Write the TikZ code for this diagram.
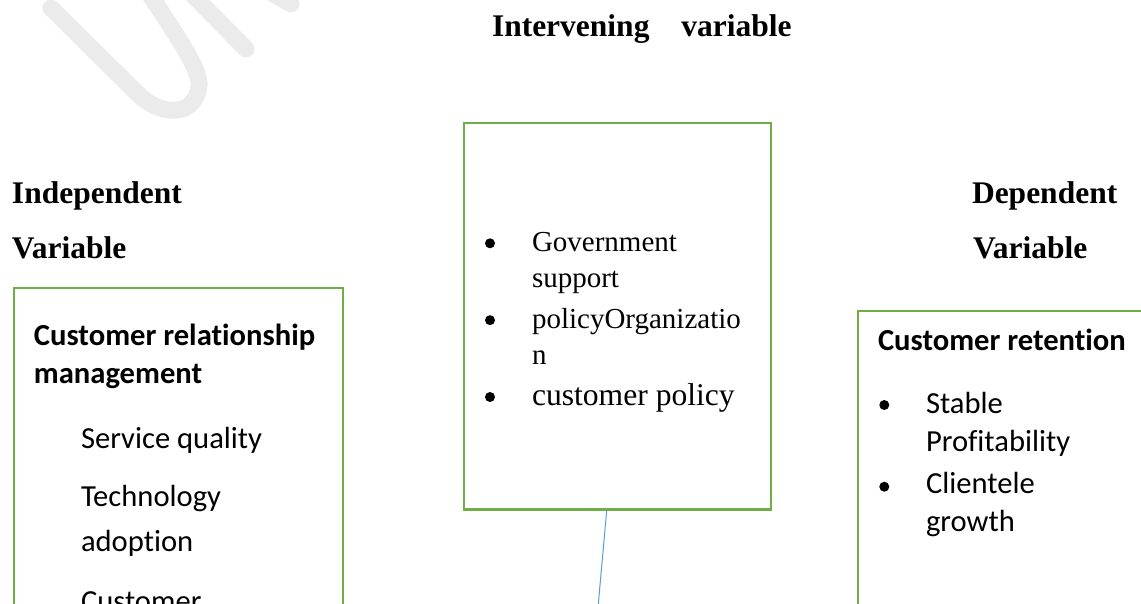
\documentclass[tikz,border=0pt]{standalone}
\usepackage{fontspec}
\setmainfont{Liberation Serif}
\newfontfamily\carl[Ligatures=NoCommon]{Carlito}
\definecolor{boxgreen}{HTML}{70AD47}
\definecolor{lineblue}{HTML}{5B9BD5}
\definecolor{wmgray}{HTML}{EBEBEB}
\begin{document}
\begin{tikzpicture}[x=1pt,y=-1pt,
  txt/.style={anchor=base west,inner sep=0pt,outer sep=0pt},
  headbold/.style={txt,font=\fontsize{31.5}{36}\selectfont\bfseries},
  serifsmall/.style={txt,font=\fontsize{29}{34}\selectfont},
  serifbig/.style={txt,font=\fontsize{31.6}{36}\selectfont},
  sansbold/.style={txt,font=\carl\fontsize{30.6}{36}\selectfont\bfseries},
  sansreg/.style={txt,font=\carl\fontsize{30.6}{36}\selectfont},
  greenbox/.style={draw=boxgreen,line width=2.2pt,anchor=north west,inner sep=0pt},
  bul/.style={circle,fill=black,inner sep=0pt,minimum size=10pt},
  watermark/.style={draw=wmgray,line width=17pt,line cap=round,line join=round},
  connector/.style={draw=lineblue,line width=1pt}]
\useasboundingbox (0,0) rectangle (1141,603);
\clip (0,0) rectangle (1141,603);
% watermark strokes
\path[watermark] (51,8) -- (138,94) .. controls (160,116) and (195,118) .. (199,86) .. controls (201,72) and (180,40) .. (150,-5);
\path[watermark] (246,49) -- (190,-8);
\path[watermark] (291,4) -- (270,-8);
% title and headings
\node[headbold] (title) at (492,36) {Intervening\hspace*{32pt}variable};
\node[headbold] (indep) at (12,203) {Independent};
\node[headbold] (indepvar) at (12,258) {Variable};
\node[headbold] (dep) at (972,203) {Dependent};
\node[headbold] (depvar) at (973,258) {Variable};
% boxes
\node[greenbox,minimum width=329pt,minimum height=340pt] (leftbox) at (12.7,286.7) {};
\node[greenbox,minimum width=307.3pt,minimum height=386.6pt] (midbox) at (462.7,121.7) {};
\node[greenbox,minimum width=320pt,minimum height=320pt] (rightbox) at (856.5,310) {};
% left box text
\node[sansbold] (crm1) at (34,345) {Customer relationship};
\node[sansbold] (crm2) at (34,383.3) {management};
\node[sansreg] (sq) at (81,448.3) {Service quality};
\node[sansreg] (ta1) at (81,506.7) {Technology};
\node[sansreg] (ta2) at (81,551.7) {adoption};
\node[sansreg] (cu) at (81,611) {Customer};
% middle box text
\node[bul] (b1) at (490,243.3) {};
\node[serifsmall] (gov1) at (532,251.8) {Government};
\node[serifsmall] (gov2) at (532,287.7) {support};
\node[bul] (b2) at (490,320.2) {};
\node[serifsmall] (pol1) at (532,328.7) {policyOrganizatio};
\node[serifsmall] (pol2) at (532,364.5) {n};
\node[bul] (b3) at (490,397) {};
\node[serifbig] (cpol) at (532,405.5) {customer policy};
% right box text
\node[sansbold] (cr) at (878,350) {Customer retention};
\node[bul] (b4) at (884.3,405) {};
\node[sansreg] (sp1) at (926,413.3) {Stable};
\node[sansreg] (sp2) at (926,451.7) {Profitability};
\node[bul] (b5) at (884.3,486.7) {};
\node[sansreg] (cg1) at (926,493.3) {Clientele};
\node[sansreg] (cg2) at (926,531.7) {growth};
% connector
\coordinate (ltop) at (606.7,0);
\coordinate (lend) at (598.3,604);
\draw[connector] (midbox.south -| ltop) -- (lend);
\end{tikzpicture}
\end{document}
